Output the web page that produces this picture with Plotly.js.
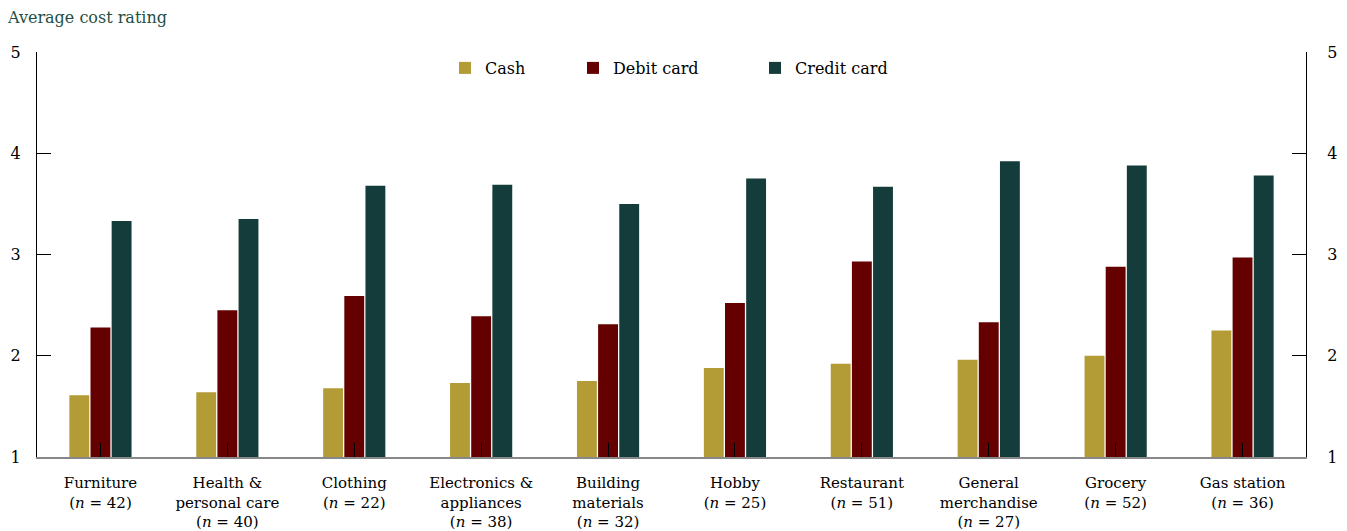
<!DOCTYPE html>
<html>
<head>
<meta charset="utf-8">
<script src="https://cdn.plot.ly/plotly-3.0.1.min.js"></script>
<style>html,body{margin:0;padding:0;background:#fff;}#chart{width:1347px;height:531px;}</style>
</head>
<body>
<div id="chart"></div>
<script>
const categories = ["Furniture", "Health & personal care", "Clothing", "Electronics & appliances", "Building materials", "Hobby", "Restaurant", "General merchandise", "Grocery", "Gas station"];
const tickLabels = [
  "Furniture<br>(<i>n</i> = 42)",
  "Health &<br>personal care<br>(<i>n</i> = 40)",
  "Clothing<br>(<i>n</i> = 22)",
  "Electronics &<br>appliances<br>(<i>n</i> = 38)",
  "Building<br>materials<br>(<i>n</i> = 32)",
  "Hobby<br>(<i>n</i> = 25)",
  "Restaurant<br>(<i>n</i> = 51)",
  "General<br>merchandise<br>(<i>n</i> = 27)",
  "Grocery<br>(<i>n</i> = 52)",
  "Gas station<br>(<i>n</i> = 36)"
];
const cash   = [1.61, 1.64, 1.68, 1.73, 1.75, 1.88, 1.92, 1.96, 2.00, 2.25];
const debit  = [2.28, 2.45, 2.59, 2.39, 2.31, 2.52, 2.93, 2.33, 2.88, 2.97];
const credit = [3.33, 3.35, 3.68, 3.69, 3.50, 3.75, 3.67, 3.92, 3.88, 3.78];
const yTicks = [1, 2, 3, 4, 5];

const FONT = "DejaVu Serif, Liberation Serif, serif";
const FS = 16;

const traces = [
  {type: "bar", name: "Cash", x: categories, y: cash, marker: {color: "#b39b36"}, legend: "legend"},
  {type: "bar", name: "Debit card", x: categories, y: debit, marker: {color: "#650000"}, legend: "legend2"},
  {type: "bar", name: "Credit card", x: categories, y: credit, marker: {color: "#143c3a"}, legend: "legend3"},
  {type: "scatter", x: categories, y: categories.map(() => null), yaxis: "y2", showlegend: false, hoverinfo: "skip", mode: "markers"}
];

const legY = 1 - (68 - 52) / 405;
const legBase = {orientation: "h", xanchor: "left", y: legY, yanchor: "middle", font: {family: FONT, size: FS, color: "#000"}, itemwidth: 30, bgcolor: "rgba(0,0,0,0)"};

const layout = {
  width: 1347, height: 531,
  margin: {l: 37, r: 41, t: 52, b: 74},
  paper_bgcolor: "#fff", plot_bgcolor: "#fff",
  font: {family: FONT, size: FS, color: "#000"},
  title: {text: "Average cost rating", x: 8/1347, xref: "container", xanchor: "left", y: 1 - 17/531, yref: "container", yanchor: "middle", font: {family: FONT, size: FS, color: "#1f4f45"}},
  barmode: "group", bargap: 0.5, bargroupgap: 0.06,
  showlegend: true,
  legend: Object.assign({}, legBase, {x: (445 - 37) / 1269}),
  legend2: Object.assign({}, legBase, {x: (573 - 37) / 1269}),
  legend3: Object.assign({}, legBase, {x: (755 - 37) / 1269}),
  xaxis: {
    type: "category", tickvals: categories, ticktext: tickLabels, range: [-0.5, 9.5],
    ticks: "inside", ticklen: 14, tickcolor: "#000", tickwidth: 1,
    showline: true, linecolor: "#888", linewidth: 2, showgrid: false, zeroline: false,
    ticklabelstandoff: 11, tickfont: {family: FONT, size: 15, color: "#000"}
  },
  yaxis: {
    range: [1, 5], tickvals: yTicks, ticks: "inside", ticklen: 14, tickcolor: "#000",
    showline: true, linecolor: "#000", linewidth: 1, showgrid: false, zeroline: false,
    ticklabelstandoff: 12, tickfont: {family: FONT, size: FS, color: "#000"}
  },
  yaxis2: {
    range: [1, 5], tickvals: yTicks, overlaying: "y", side: "right", ticks: "inside", ticklen: 14, tickcolor: "#000",
    showline: true, linecolor: "#000", linewidth: 1, showgrid: false, zeroline: false,
    ticklabelstandoff: 17, tickfont: {family: FONT, size: FS, color: "#000"}
  }
};

Plotly.newPlot("chart", traces, layout, {displayModeBar: false, staticPlot: true});
</script>
</body>
</html>
